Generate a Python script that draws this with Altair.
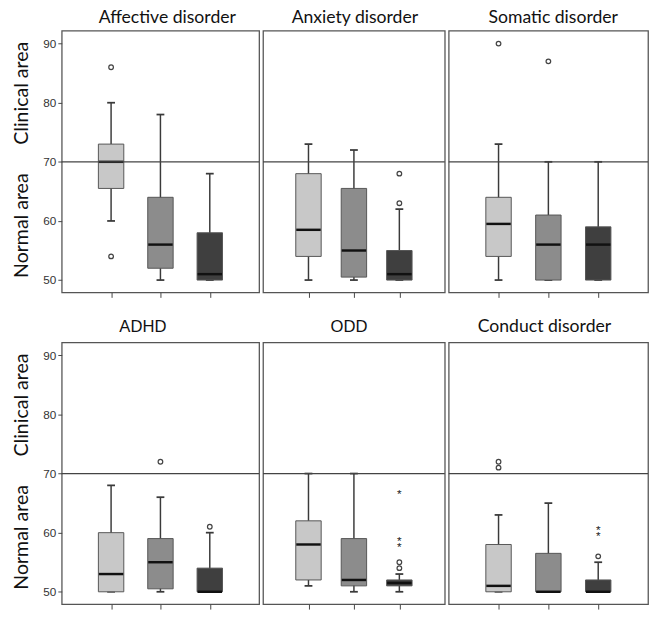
import altair as alt
import pandas as pd

# ---------------- data ----------------
panels = ["Affective disorder", "Anxiety disorder", "Somatic disorder",
          "ADHD", "ODD", "Conduct disorder"]
groups = ["Group 1", "Group 2", "Group 3"]

# per panel, per group
whisker_low = [[60, 50, 50], [50, 50, 50], [50, 50, 50],
               [50, 50, 50], [51, 50, 50], [50, 50, 50]]
q1 = [[65.5, 52, 50], [54, 50.5, 50], [54, 50, 50],
      [50, 50.5, 50], [52, 51, 51], [50, 50, 50]]
median = [[70, 56, 51], [58.5, 55, 51], [59.5, 56, 56],
          [53, 55, 50], [58, 52, 51.5], [51, 50, 50]]
q3 = [[73, 64, 58], [68, 65.5, 55], [64, 61, 59],
      [60, 59, 54], [62, 59, 52], [58, 56.5, 52]]
whisker_high = [[80, 78, 68], [73, 72, 62], [73, 70, 70],
                [68, 66, 60], [70, 70, 53], [63, 65, 55]]

# outliers (circles): panel index, group index, value
out_panel = [0, 0, 1, 1, 2, 2, 3, 3, 4, 4, 5, 5, 5]
out_group = [0, 0, 2, 2, 0, 1, 1, 2, 2, 2, 0, 0, 2]
out_value = [86, 54, 68, 63, 90, 87, 72, 61, 55, 54, 72, 71, 56]

# extreme values (stars)
star_panel = [4, 4, 4, 5, 5]
star_group = [2, 2, 2, 2, 2]
star_value = [67, 59, 58, 61, 60]

threshold = [70]
y_ticks = [50, 60, 70, 80, 90]
side_labels = ["Clinical area", "Normal area"]
side_label_pos = [81.6, 59.2]

# ---------------- styling ----------------
fills = ["#c8c8c8", "#8c8c8c", "#3f3f3f"]
line_col = "#3a3a3a"
widths = [202, 186, 204]
x_padding = [1.32, 1.09, 1.125]
title_dx = [7, 1, 5, -18, -5, -4]
HEIGHT = 268
y_domain = [47.9, 92.2]

rows = []
for p, name in enumerate(panels):
    for g, grp in enumerate(groups):
        rows.append(dict(panel=name, group=grp,
                         lo=whisker_low[p][g], q1=q1[p][g], med=median[p][g],
                         q3=q3[p][g], hi=whisker_high[p][g]))
box_df = pd.DataFrame(rows)
out_df = pd.DataFrame(dict(panel=[panels[i] for i in out_panel],
                           group=[groups[i] for i in out_group],
                           value=out_value))
star_df = pd.DataFrame(dict(panel=[panels[i] for i in star_panel],
                            group=[groups[i] for i in star_group],
                            value=star_value))
thr_df = pd.DataFrame(dict(value=threshold))
side_df = pd.DataFrame(dict(label=side_labels, value=side_label_pos))


def make_panel(p):
    name = panels[p]
    col = p % 3
    first = col == 0
    yscale = alt.Scale(domain=y_domain, nice=False, zero=False)
    if first:
        yaxis = alt.Axis(values=y_ticks, title=None, grid=False, domain=False,
                         tickSize=4, tickColor="#444", labelPadding=2,
                         labelFont="Liberation Sans", labelFontSize=12,
                         labelColor="#333")
    else:
        yaxis = None
    xenc = alt.X("group:N", scale=alt.Scale(type="point", domain=groups,
                                            padding=x_padding[col]),
                 axis=alt.Axis(labels=False, title=None, domain=False,
                               grid=False, tickSize=5, tickColor="#444"))
    bdf = box_df[box_df.panel == name].reset_index(drop=True)
    base = alt.Chart(bdf)
    whisk = base.mark_rule(color=line_col, strokeWidth=1.5).encode(
        x=xenc, y=alt.Y("lo:Q", scale=yscale, axis=yaxis), y2="hi:Q")
    cap_lo = base.mark_tick(color=line_col, size=8, thickness=1.8,
                            opacity=1).encode(
        x=xenc, y=alt.Y("lo:Q", scale=yscale))
    cap_hi = base.mark_tick(color=line_col, size=8, thickness=1.8,
                            opacity=1).encode(
        x=xenc, y=alt.Y("hi:Q", scale=yscale))
    box = base.mark_bar(size=26, stroke="#555", strokeWidth=1).encode(
        x=xenc, y=alt.Y("q1:Q", scale=yscale), y2="q3:Q",
        color=alt.Color("group:N", scale=alt.Scale(domain=groups, range=fills),
                        legend=None))
    med = base.mark_tick(color="#111", size=25, thickness=2.5,
                         opacity=1).encode(
        x=xenc, y=alt.Y("med:Q", scale=yscale))
    thr = alt.Chart(thr_df).mark_rule(color="#444", strokeWidth=1.2).encode(
        y=alt.Y("value:Q", scale=yscale))
    layers = [whisk, cap_lo, cap_hi, box, med, thr]
    odf = out_df[out_df.panel == name].reset_index(drop=True)
    layers.append(alt.Chart(odf).mark_point(
        shape="circle", filled=False, size=22, color="#444", opacity=1,
        strokeWidth=1.3).encode(x=xenc, y=alt.Y("value:Q", scale=yscale)))
    sdf = star_df[star_df.panel == name].reset_index(drop=True)
    if len(sdf):
        layers.append(alt.Chart(sdf).mark_text(
            text="*", font="Liberation Sans", fontSize=12, dy=3,
            color="#222").encode(x=xenc, y=alt.Y("value:Q", scale=yscale)))
    if first:
        layers.append(alt.Chart(side_df).mark_text(
            angle=270, font="Lato", fontSize=20, color="#111",
            baseline="middle", align="center").encode(
            x=alt.value(-41), y=alt.Y("value:Q", scale=yscale),
            text="label:N"))
    if name in ("ADHD", "ODD"):
        tfont, tsize = "Liberation Sans", 17
    else:
        tfont, tsize = "Lato", 18
    top_row = p < 3
    title = alt.TitleParams(name, font=tfont, fontSize=tsize, fontWeight="normal",
                            color="#111", offset=4 if top_row else 7,
                            anchor="middle", dx=title_dx[p])
    return alt.layer(*layers).properties(width=widths[col], height=HEIGHT,
                                         title=title)


row1 = alt.hconcat(*[make_panel(i) for i in range(3)],
                   spacing=0).resolve_scale(color="independent")
row2 = alt.hconcat(*[make_panel(i) for i in range(3, 6)],
                   spacing=0).resolve_scale(color="independent")
chart = alt.vconcat(row1, row2, spacing=18).resolve_scale(
    color="independent").properties(
    padding={"left": 3, "top": -7, "right": 0, "bottom": 0}
).configure_view(stroke="#555", strokeWidth=1.3)

chart.save("out.html", embed_options={"renderer": "svg", "actions": False})
